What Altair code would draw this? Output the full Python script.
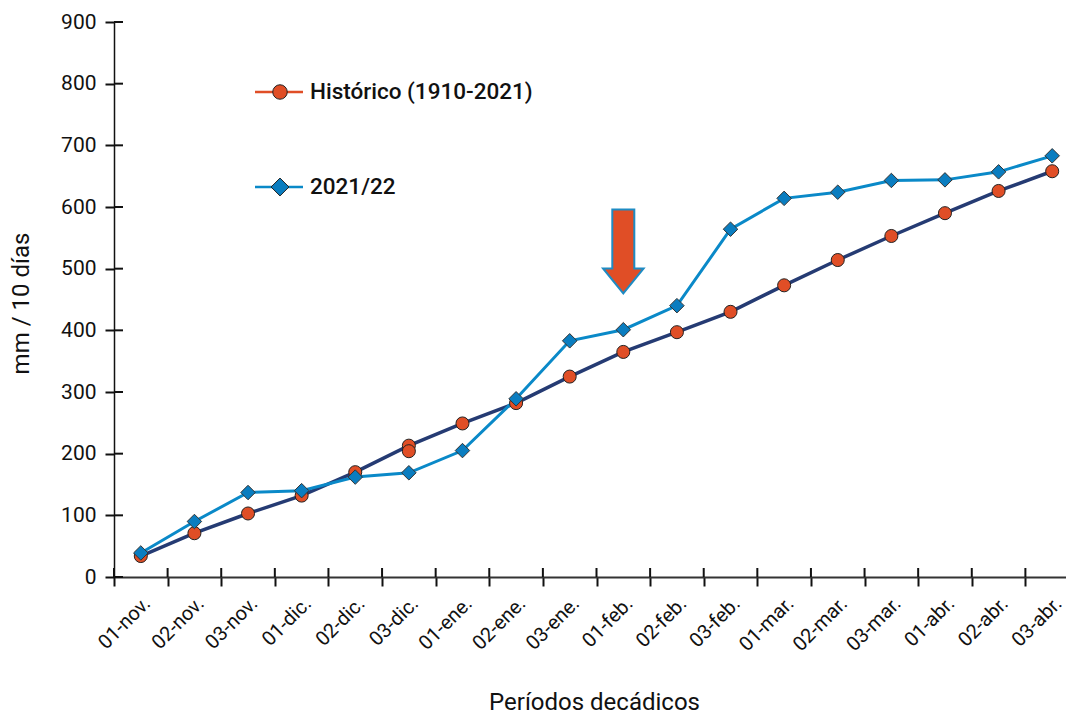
import altair as alt
import pandas as pd

periods = ["01-nov.", "02-nov.", "03-nov.", "01-dic.", "02-dic.", "03-dic.",
           "01-ene.", "02-ene.", "03-ene.", "01-feb.", "02-feb.", "03-feb.",
           "01-mar.", "02-mar.", "03-mar.", "01-abr.", "02-abr.", "03-abr."]
historico = [34, 71, 103, 132, 170, 213, 249, 282, 325, 365, 397, 430,
             473, 514, 553, 590, 626, 658]
historico_extra_period = ["03-dic."]
historico_extra_value = [204]
campania = [39, 90, 137, 140, 162, 169, 205, 289, 383, 401, 440, 564,
            614, 624, 643, 644, 657, 683]
serie_names = ["Histórico (1910-2021)", "2021/22"]
y_ticks = [0, 100, 200, 300, 400, 500, 600, 700, 800, 900]
arrow_period = ["01-feb."]
arrow_value = [528]

W, H = 952, 555
XR = 965
ORANGE = "#E04E26"
NAVY = "#253B73"
BLUE = "#0A89C8"
DIAMOND = "#0A7DC0"

df_h = pd.DataFrame({"periodo": periods, "valor": historico})
df_hx = pd.DataFrame({"periodo": historico_extra_period, "valor": historico_extra_value})
df_c = pd.DataFrame({"periodo": periods, "valor": campania})
df_y = pd.DataFrame({"v": y_ticks})
df_xb = pd.DataFrame({"periodo": periods})
df_arrow = pd.DataFrame({"periodo": arrow_period, "valor": arrow_value})

xscale = alt.Scale(type="band", domain=periods, paddingInner=0, paddingOuter=0, range=[0, XR])
yscale = alt.Scale(domain=[0, 900])

X = alt.X("periodo:N", scale=xscale, sort=periods,
          axis=alt.Axis(title="Períodos decádicos", labelAngle=-45, labelAlign="right",
                        labelBaseline="middle", labelPadding=14, labelOffset=6,
                        tickBand="extent", tickSize=9, tickWidth=2, tickColor="#111",
                        domainColor="#333", domainWidth=2, labelFontSize=20,
                        labelColor="#111", titleFontSize=24, titleFontWeight="normal",
                        titleColor="#111", titleX=480, titleY=132,
                        titleAlign="center", titleBaseline="alphabetic"))
Y = alt.Y("valor:Q", scale=yscale,
          axis=alt.Axis(title="mm / 10 días", values=y_ticks, grid=False, tickSize=9,
                        tickWidth=2, tickColor="#111", domainColor="#111", domainWidth=1.5,
                        labelFontSize=21, labelColor="#111", labelPadding=9,
                        titleFontSize=24, titleFontWeight="normal", titleColor="#111",
                        titleX=-86, titleY=281, titleAlign="center",
                        titleBaseline="alphabetic"))

line_h = alt.Chart(df_h).mark_line(color=NAVY, strokeWidth=3.5).encode(x=X, y=Y)
line_c = alt.Chart(df_c).mark_line(color=BLUE, strokeWidth=3).encode(x=X, y=Y)
pts_h = alt.Chart(df_h).mark_point(shape="circle", filled=True, fill=ORANGE, stroke="#222",
                                   strokeWidth=1, size=170, opacity=1).encode(x=X, y=Y)
pts_hx = alt.Chart(df_hx).mark_point(shape="circle", filled=True, fill=ORANGE, stroke="#222",
                                     strokeWidth=1, size=170, opacity=1).encode(x=X, y=Y)
pts_c = alt.Chart(df_c).mark_point(shape="diamond", filled=True, fill=DIAMOND, stroke="#333",
                                   strokeWidth=1, size=210, opacity=1).encode(x=X, y=Y)

# inner halves of the crossing tick marks
yin = alt.Chart(df_y).mark_rule(color="#111", strokeWidth=2).encode(
    y=alt.Y("v:Q", scale=yscale), x=alt.value(0), x2=alt.value(9))
xin = alt.Chart(df_xb).mark_rule(color="#111", strokeWidth=2).encode(
    x=alt.X("periodo:N", scale=xscale, sort=periods, bandPosition=0),
    y=alt.value(H - 9), y2=alt.value(H))

arrow_path = ("M -0.262 -1 L 0.262 -1 L 0.262 0.405 L 0.483 0.405 L 0 1 "
              "L -0.483 0.405 L -0.262 0.405 Z")
arrow = alt.Chart(df_arrow).mark_point(shape=arrow_path, filled=True, fill=ORANGE,
                                       stroke="#1E8BC3", strokeWidth=2, size=7056,
                                       opacity=1).encode(x=X, y=Y)

# legend
df_leg = pd.DataFrame({"serie": serie_names})
LY = [70, 165]


def leg(i, color, shape, fill, size):
    base = alt.Chart(df_leg).transform_filter(alt.datum.serie == serie_names[i])
    r = base.mark_rule(color=color, strokeWidth=2.5).encode(
        x=alt.value(141), x2=alt.value(189), y=alt.value(LY[i]))
    p = base.mark_point(shape=shape, filled=True, fill=fill, stroke="#222", strokeWidth=1,
                        size=size, opacity=1).encode(x=alt.value(166), y=alt.value(LY[i]))
    t = base.mark_text(align="left", baseline="middle", fontSize=22.5, fontWeight=500,
                       color="#111").encode(x=alt.value(196), y=alt.value(LY[i]),
                                            text="serie:N")
    return [r, p, t]


chart = alt.layer(
    line_h, line_c, pts_h, pts_hx, pts_c, yin, xin, arrow,
    *leg(0, ORANGE, "circle", ORANGE, 210),
    *leg(1, BLUE, "diamond", DIAMOND, 320),
).properties(
    width=W, height=H,
    autosize=alt.AutoSizeParams(type="none"),
    padding={"left": 106, "top": 14, "right": 0, "bottom": 140},
).configure(font="Roboto").configure_view(stroke=None)

chart.save("out.html", embed_options={"renderer": "svg", "actions": False})
